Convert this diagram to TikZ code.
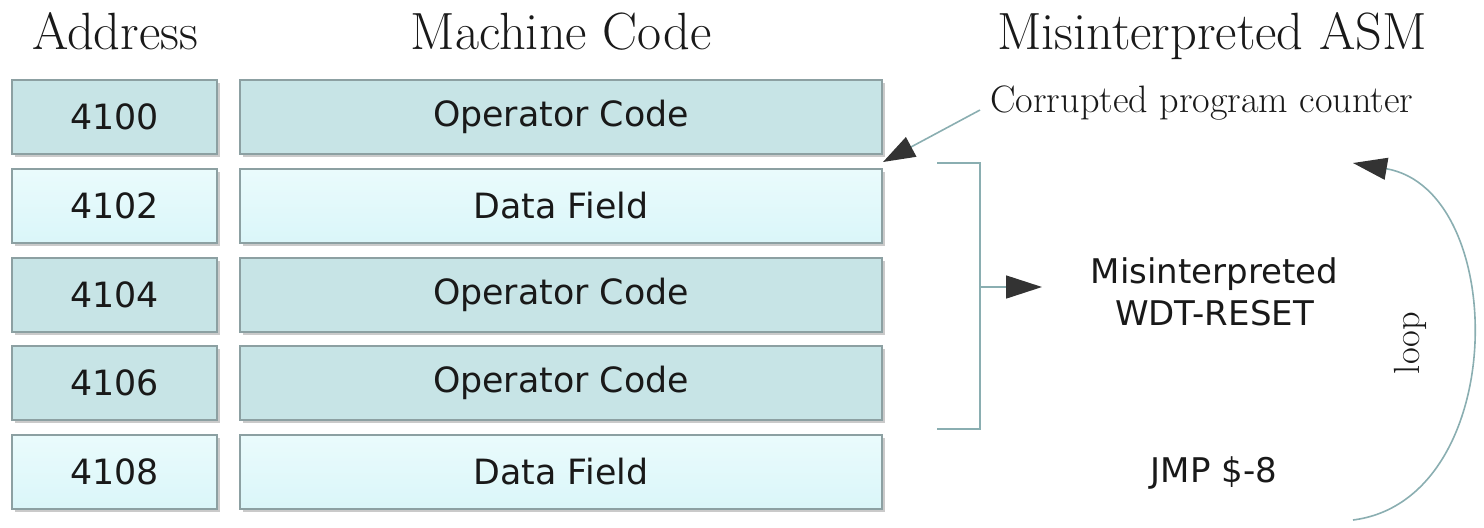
\documentclass[tikz,border=0pt]{standalone}
\usepackage{fontspec}
\newfontfamily\boxfont{DejaVu Sans}
\usetikzlibrary{arrows.meta,shadows}
\definecolor{opfill}{HTML}{C7E4E6}
\definecolor{datafill}{HTML}{DAF6F9}
\definecolor{datatop}{HTML}{EAFBFC}
\definecolor{boxline}{HTML}{8CA0A2}
\definecolor{wire}{HTML}{8AAEB1}
\definecolor{tipcol}{HTML}{333333}
\tikzset{
  cell/.style={draw=boxline, line width=0.8pt, minimum height=37pt,
    inner sep=0pt, font=\boxfont\fontsize{17.4}{20}\selectfont, text=black!90,
    drop shadow={shadow xshift=1.3pt, shadow yshift=-1.3pt, opacity=0.35, fill=black!60}},
  addr/.style={cell, minimum width=102.5pt},
  code/.style={cell, minimum width=321pt},
  opcell/.style={fill=opfill},
  datacell/.style={top color=datatop, bottom color=datafill},
  header/.style={font=\fontsize{26.2}{29}\selectfont, text=black!90, inner sep=0pt},
  note/.style={font=\fontsize{19.1}{22}\selectfont, text=black!90, inner sep=0pt},
  asm/.style={font=\boxfont\fontsize{17}{19}\selectfont, text=black!90, align=center, inner sep=0pt},
  wireline/.style={draw=wire, line width=0.8pt},
  arr/.style={wireline, -{Triangle[length=16pt, width=11pt, color=tipcol]}},
}
\begin{document}
\begin{tikzpicture}[x=0.5pt, y=-0.5pt]
\useasboundingbox (0,0) rectangle (1484,527);

% column headers
\node[header, anchor=base] (hAddr) at (115,49) {Address};
\node[header, anchor=base] (hCode) at (561,49) {Machine Code};
\node[header, anchor=base] (hAsm)  at (1212,49) {Misinterpreted ASM};

% memory rows
\node[addr, opcell]   (a1) at (114.5,117) {4100};
\node[code, opcell]   (m1) at (561,117)   {Operator Code};
\node[addr, datacell] (a2) at (114.5,206) {4102};
\node[code, datacell] (m2) at (561,206)   {Data Field};
\node[addr, opcell]   (a3) at (114.5,295) {4104};
\node[code, opcell]   (m3) at (561,295)   {Operator Code};
\node[addr, opcell]   (a4) at (114.5,383) {4106};
\node[code, opcell]   (m4) at (561,383)   {Operator Code};
\node[addr, datacell] (a5) at (114.5,472) {4108};
\node[code, datacell] (m5) at (561,472)   {Data Field};

% program counter note
\node[note, anchor=base west] (cpc) at (990,112) {Corrupted program counter};
\coordinate (pcend) at (980,110);
\coordinate (pctip) at (883,162);
\draw[arr] (pcend) -- (pctip);

% bracket over the misread words
\coordinate (bt) at (937,163);
\coordinate (bb) at (937,429);
\coordinate (bm) at (980,287);
\draw[wireline] (bt) -- (980,163) -- (980,429) -- (bb);

% decoded instructions
\node[asm] (wdt) at (1214.5,292) {Misinterpreted\\[2pt]WDT-RESET};
\node[asm, anchor=base] (jmp) at (1214,482) {JMP \$-8};
\coordinate (wdtin) at (1042,287);
\draw[arr, -{Triangle[length=18pt, width=11.5pt, color=tipcol]}] (bm) -- (wdtin);

% jump back loop
\coordinate (lb) at (1353,520);
\coordinate (lt) at (1353,163);
\draw[arr, -{Triangle[length=17pt, width=11pt, color=tipcol]}]
  (lb) .. controls (1510,500) and (1510,190) .. (lt);
\node[font=\fontsize{18.2}{20}\selectfont, text=black!90, rotate=90, inner sep=0pt] (loop) at (1410,343) {loop};
\end{tikzpicture}
\end{document}
